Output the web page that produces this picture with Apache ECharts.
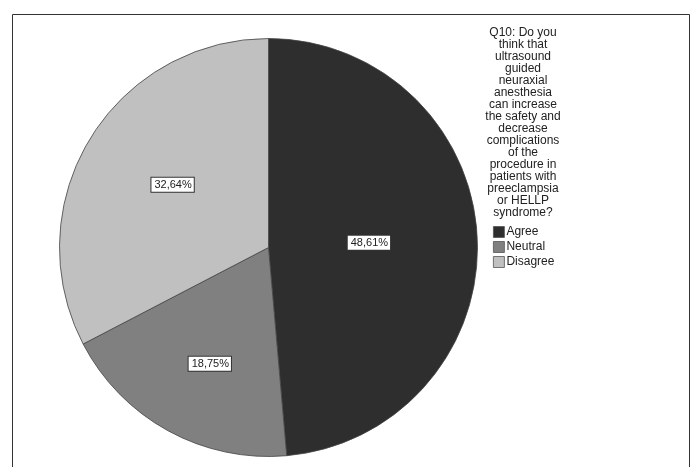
<!DOCTYPE html>
<html><head><meta charset="utf-8">
<script src="https://cdn.jsdelivr.net/npm/echarts@6/dist/echarts.min.js"></script>
<style>html,body{margin:0;padding:0;background:#fff}#c{width:696px;height:467px}</style>
</head><body><div id="c"></div>
<script>
var categories = ['Agree', 'Neutral', 'Disagree'];
var counts = [70, 27, 47];
var percentLabels = ['48,61%', '18,75%', '32,64%'];
var legendTitle = 'Q10: Do you\nthink that\nultrasound\nguided\nneuraxial\nanesthesia\ncan increase\nthe safety and\ndecrease\ncomplications\nof the\nprocedure in\npatients with\npreeclampsia\nor HELLP\nsyndrome?';

var colors = ['#2e2e2e', '#808080', '#c0c0c0'];
var labelOffsets = [[-7, 0], [-7, 22], [-4, -7]];

var chart = echarts.init(document.getElementById('c'), null, {renderer: 'canvas'});
var font = 'Liberation Sans, Arial, sans-serif';
chart.setOption({
  backgroundColor: '#ffffff',
  animation: false,
  color: colors,
  title: {
    text: legendTitle,
    left: 523,
    top: 27,
    padding: 0,
    textAlign: 'center',
    textStyle: {fontFamily: font, fontSize: 12, lineHeight: 12, fontWeight: 'normal', color: '#222'}
  },
  legend: {
    orient: 'vertical',
    left: 493,
    top: 226,
    padding: 0,
    itemWidth: 11,
    itemHeight: 11,
    itemGap: 3,
    icon: 'rect',
    data: categories,
    itemStyle: {borderColor: '#555', borderWidth: 0.8},
    textStyle: {fontFamily: font, fontSize: 12, lineHeight: 12, color: '#222', padding: [0, 0, 0, -3]}
  },
  graphic: [{
    type: 'rect',
    shape: {x: 12.5, y: 14.5, width: 677, height: 470},
    style: {fill: 'none', stroke: '#333', lineWidth: 1},
    silent: true
  }],
  series: [{
    type: 'pie',
    center: [268.5, 247.5],
    radius: 209,
    startAngle: 90,
    clockwise: true,
    avoidLabelOverlap: false,
    labelLine: {show: false},
    itemStyle: {borderColor: '#444', borderWidth: 0.8},
    data: categories.map(function (c, i) {
      return {
        name: c,
        value: counts[i],
        itemStyle: {color: colors[i]},
        label: {offset: labelOffsets[i]}
      };
    }),
    label: {
      show: true,
      position: 'inside',
      formatter: function (p) { return percentLabels[p.dataIndex]; },
      fontFamily: font,
      fontSize: 11,
      color: '#222',
      backgroundColor: '#fff',
      borderColor: '#333',
      borderWidth: 1,
      padding: [2, 2, 1, 3]
    }
  }]
});
</script></body></html>
